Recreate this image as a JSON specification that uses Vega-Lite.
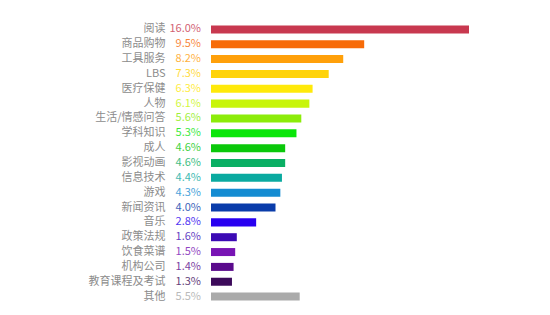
{
  "$schema": "https://vega.github.io/schema/vega-lite/v6.json",
  "width": 258,
  "height": 282,
  "autosize": "none",
  "padding": {"left": 211, "top": 22, "right": 81, "bottom": 11},
  "background": "white",
  "config": {"view": {"stroke": null}},
  "data": {
    "values": [
      {"cat": "阅读", "v": 16.0, "label": "16.0%", "color": "#c8384f"},
      {"cat": "商品购物", "v": 9.5, "label": "9.5%", "color": "#f76b08"},
      {"cat": "工具服务", "v": 8.2, "label": "8.2%", "color": "#ffa00a"},
      {"cat": "LBS", "v": 7.3, "label": "7.3%", "color": "#ffd30a"},
      {"cat": "医疗保健", "v": 6.3, "label": "6.3%", "color": "#ffe90a"},
      {"cat": "人物", "v": 6.1, "label": "6.1%", "color": "#c8f50a"},
      {"cat": "生活/情感问答", "v": 5.6, "label": "5.6%", "color": "#8cec0a"},
      {"cat": "学科知识", "v": 5.3, "label": "5.3%", "color": "#0ae60a"},
      {"cat": "成人", "v": 4.6, "label": "4.6%", "color": "#0ac80a"},
      {"cat": "影视动画", "v": 4.6, "label": "4.6%", "color": "#0aaf64"},
      {"cat": "信息技术", "v": 4.4, "label": "4.4%", "color": "#0aaaa0"},
      {"cat": "游戏", "v": 4.3, "label": "4.3%", "color": "#148cd2"},
      {"cat": "新闻资讯", "v": 4.0, "label": "4.0%", "color": "#0a3caa"},
      {"cat": "音乐", "v": 2.8, "label": "2.8%", "color": "#2800f0"},
      {"cat": "政策法规", "v": 1.6, "label": "1.6%", "color": "#3c0ab4"},
      {"cat": "饮食菜谱", "v": 1.5, "label": "1.5%", "color": "#7814b4"},
      {"cat": "机构公司", "v": 1.4, "label": "1.4%", "color": "#5a0a8c"},
      {"cat": "教育课程及考试", "v": 1.3, "label": "1.3%", "color": "#3c0a5a"},
      {"cat": "其他", "v": 5.5, "label": "5.5%", "color": "#aaaaaa"}
    ]
  },
  "encoding": {
    "y": {
      "field": "cat",
      "type": "nominal",
      "sort": null,
      "scale": {"paddingInner": 0.46, "paddingOuter": 0.23},
      "axis": {
        "title": null,
        "domain": false,
        "ticks": false,
        "labelPadding": 46,
        "labelColor": "#8c8c8c",
        "labelFontSize": 11,
        "labelFont": "Noto Sans CJK SC"
      }
    }
  },
  "layer": [
    {
      "mark": {"type": "bar"},
      "encoding": {
        "x": {
          "field": "v",
          "type": "quantitative",
          "scale": {"domain": [0, 16], "nice": false},
          "axis": null
        },
        "color": {"field": "color", "type": "nominal", "scale": null}
      }
    },
    {
      "mark": {"type": "text", "align": "right", "dx": -10, "fontSize": 11, "font": "Noto Sans CJK SC", "baseline": "middle", "opacity": 0.8},
      "encoding": {
        "x": {"datum": 0, "type": "quantitative"},
        "text": {"field": "label"},
        "color": {"field": "color", "type": "nominal", "scale": null}
      }
    }
  ]
}
